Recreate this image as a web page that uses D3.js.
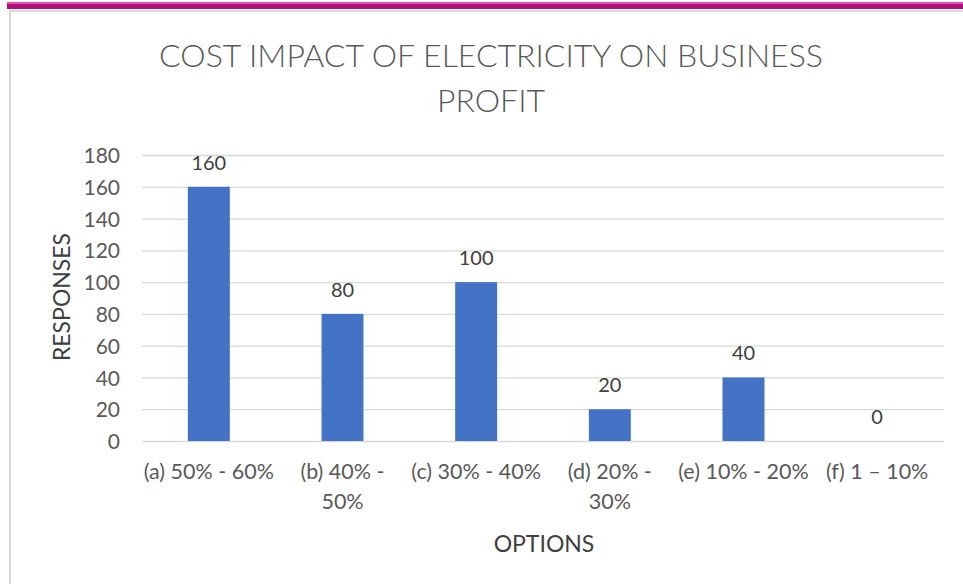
<!DOCTYPE html>
<html>
<head>
<meta charset="utf-8">
<script src="https://cdn.jsdelivr.net/npm/d3@7"></script>
<style>
  html, body { margin: 0; padding: 0; background: #fff; }
  svg { display: block; }
  text { font-family: Lato, "Open Sans", sans-serif; }
</style>
</head>
<body>
<script>
const categories = [
  ["(a) 50% - 60%"],
  ["(b) 40% -", "50%"],
  ["(c) 30% - 40%"],
  ["(d) 20% -", "30%"],
  ["(e) 10% - 20%"],
  ["(f) 1 \u2013 10%"]
];
const responses = [160, 80, 100, 20, 40, 0];
const yTicks = [0, 20, 40, 60, 80, 100, 120, 140, 160, 180];
const titleLines = ["COST IMPACT OF ELECTRICITY ON BUSINESS", "PROFIT"];
const xTitle = "OPTIONS";
const yTitle = "RESPONSES";

const W = 963, H = 584;
const svg = d3.select("body").append("svg").attr("width", W).attr("height", H);

// page decoration: magenta header band and chart frame (cropped)
svg.append("rect").attr("x", 7).attr("y", 2).attr("width", W - 7).attr("height", 2).attr("fill", "#E64FB7");
svg.append("rect").attr("x", 7).attr("y", 4).attr("width", W - 7).attr("height", 5).attr("fill", "#AE0F79");
svg.append("rect").attr("x", 9).attr("y", 10).attr("width", W - 9).attr("height", 2).attr("fill", "#D9D9D9");
svg.append("rect").attr("x", 9).attr("y", 10).attr("width", 2).attr("height", H - 10).attr("fill", "#D9D9D9");

const plot = { left: 142, right: 944, top: 155, bottom: 441 };

const x = d3.scaleBand()
  .domain(categories.map(c => c.join(" ")))
  .range([plot.left, plot.right])
  .paddingInner(0.686)
  .paddingOuter(0.343);

const y = d3.scaleLinear().domain([0, 180]).range([plot.bottom, plot.top]);

// gridlines
const yAxis = d3.axisLeft(y).tickValues(yTicks).tickSize(-(plot.right - plot.left)).tickPadding(22);
const gy = svg.append("g").attr("transform", `translate(${plot.left},0)`).call(yAxis);
gy.select(".domain").remove();
gy.selectAll(".tick line").attr("stroke", "#D9D9D9").attr("stroke-width", 1.3);
gy.selectAll(".tick text")
  .attr("fill", "#595959").style("font-size", "21px").attr("dy", "0.36em");

// bars
svg.append("g").selectAll("rect").data(responses).join("rect")
  .attr("x", (d, i) => x(categories[i].join(" ")))
  .attr("y", d => y(d))
  .attr("width", x.bandwidth())
  .attr("height", d => y(0) - y(d))
  .attr("fill", "#4472C4");

// data labels
svg.append("g").selectAll("text").data(responses).join("text")
  .attr("x", (d, i) => x(categories[i].join(" ")) + x.bandwidth() / 2)
  .attr("y", d => y(d) - 17)
  .attr("text-anchor", "middle")
  .attr("fill", "#404040")
  .style("font-size", "20px")
  .text(d => d);

// category labels
const cl = svg.append("g").selectAll("text").data(categories).join("text")
  .attr("x", c => x(c.join(" ")) + x.bandwidth() / 2)
  .attr("y", 479)
  .attr("text-anchor", "middle")
  .attr("fill", "#595959")
  .style("font-size", "21.5px");
cl.selectAll("tspan").data(c => c).join("tspan")
  .attr("x", function () { return d3.select(this.parentNode).attr("x"); })
  .attr("dy", (d, i) => i === 0 ? 0 : 30)
  .text(d => d);

// title
svg.append("text")
  .attr("x", 491).attr("y", 67)
  .attr("text-anchor", "middle")
  .attr("fill", "#595959")
  .style("font-size", "32px")
  .style("font-weight", 300)
  .selectAll("tspan").data(titleLines).join("tspan")
  .attr("x", 491)
  .attr("dy", (d, i) => i === 0 ? 0 : 45)
  .text(d => d);

// axis titles
svg.append("text")
  .attr("x", 544).attr("y", 552)
  .attr("text-anchor", "middle")
  .attr("fill", "#404040")
  .style("font-size", "23px")
  .text(xTitle);

svg.append("text")
  .attr("transform", "translate(70,297) rotate(-90)")
  .attr("text-anchor", "middle")
  .attr("fill", "#404040")
  .style("font-size", "23px")
  .text(yTitle);
</script>
</body>
</html>
